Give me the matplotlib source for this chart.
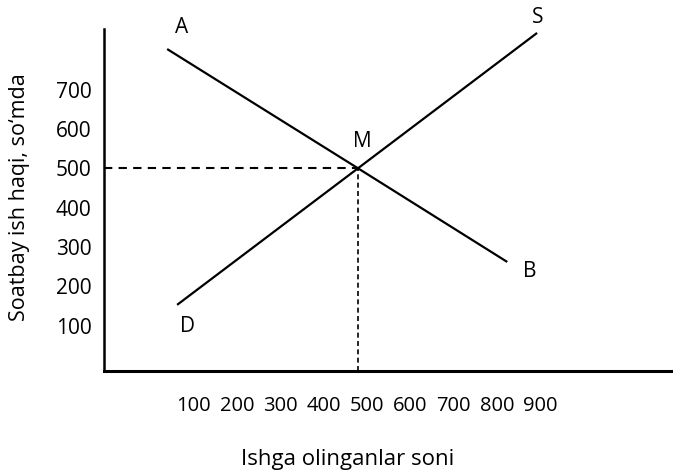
import matplotlib
matplotlib.use("Agg")
import matplotlib.pyplot as plt

# demand line A-M-B and supply line D-M-S
demand_x = [38, 479, 824]
demand_y = [803, 500, 262]
supply_x = [61, 479, 893]
supply_y = [153, 500, 844]
eq_x, eq_y = 479, 500

x_ticks = [100, 200, 300, 400, 500, 600, 700, 800, 900]
y_ticks = [100, 200, 300, 400, 500, 600, 700]

point_labels = ["A", "B", "D", "S", "M"]
label_x = [72, 877, 84, 895, 488]
label_y = [859, 237, 99, 882, 567]

plt.rcParams["font.family"] = ["Open Sans", "DejaVu Sans"]

fig = plt.figure(figsize=(6.73, 4.75), dpi=100)
ax = fig.add_axes([0.1545, 0.219, 0.8455, 0.72])

ax.plot(demand_x, demand_y, color="black", lw=1.6, solid_capstyle="butt")
ax.plot(supply_x, supply_y, color="black", lw=1.6, solid_capstyle="butt")
ax.plot([-108, eq_x], [eq_y, eq_y], color="black", lw=1.5, ls=(0, (4, 3)))
ax.plot([eq_x, eq_x], [-15, eq_y], color="black", lw=1.2, ls=(0, (3, 2)))

for t, x, y in zip(point_labels, label_x, label_y):
    ax.text(x, y, t, fontsize=15, ha="center", va="center", clip_on=False)

ax.set_xlim(-108, 1207)
ax.set_ylim(-15, 854)
ax.set_xticks(x_ticks)
ax.set_yticks(y_ticks)
ax.tick_params(axis="x", length=0, pad=18, labelsize=14.5)
ax.tick_params(axis="y", length=0, pad=9, labelsize=15)

for s in ["top", "right"]:
    ax.spines[s].set_visible(False)
ax.spines["left"].set_linewidth(1.8)
ax.spines["bottom"].set_linewidth(2.2)

fig.text(20 / 673, 1 - 197 / 475, "Soatbay ish haqi, so‘mda", fontsize=15.5,
         rotation=90, ha="center", va="center")
fig.text(348 / 673, 1 - 460 / 475, "Ishga olinganlar soni", fontsize=16,
         ha="center", va="center")

fig.savefig("out.png", dpi=100)
